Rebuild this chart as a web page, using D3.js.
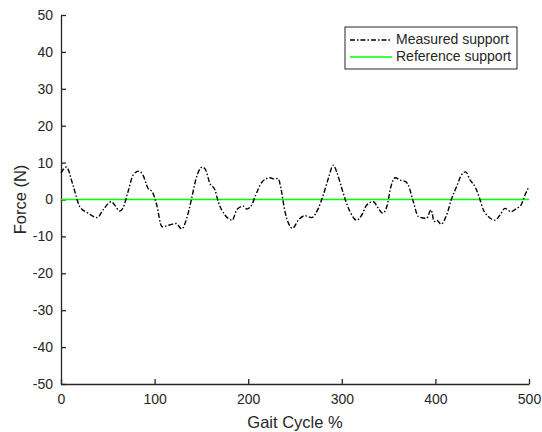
<!DOCTYPE html>
<html>
<head>
<meta charset="utf-8">
<script src="https://cdn.jsdelivr.net/npm/d3@7"></script>
<style>
  body { margin: 0; background: #fff; }
  text { font-family: Arial, "Liberation Sans", sans-serif; fill: #262626; }
</style>
</head>
<body>
<div id="chart"></div>
<script>
// gait cycle positions (%) and measured force (N)
const gaitX = [0, 5.7, 12.8, 20, 29, 38.8, 45, 53.8, 57.3, 62.7, 66, 71.6, 77, 83, 87.6, 93, 97.5, 101.8, 108, 116, 123,
  129, 134.3, 139.6, 143.9, 151, 154.6, 159, 164.5, 168, 175.2, 183, 187.7, 195, 198.4, 203.7, 208, 215, 223.3, 227.6, 232, 235, 239.3,
  247.5, 253.5, 260.7, 267.8, 274.9, 280.2, 285.6, 291, 294.5, 300, 304.5, 308.8, 316, 321.3, 326.6, 333.7, 339, 343.7, 348.6, 352, 357, 362, 368.6,
  371, 376.4, 381.7, 390.6, 395.3, 398.8, 401.4, 406, 412, 417.4, 422.7, 427.4, 432.4, 437, 442.3, 446.6, 451.2, 456.5, 463.7, 469, 474.4, 480.8, 486.8, 491.5, 495.7, 500];
const measured = [7.2, 8.8, 3.9, -1.9, -3.7, -4.9, -2.8, -0.6, -1.5, -3.1, -2.4, 2.1, 6.6, 7.7, 6.6, 3, 2.1, -1, -7.4, -6.9, -6.5,
  -8, -5.1, 0.3, 5.3, 8.8, 8, 4.4, 2.6, -0.6, -4.2, -5.6, -2.8, -1.8, -2.6, -1.5, 1.2, 4.8, 5.9, 5.6, 5.7, 3, -3.3,
  -7.8, -5.6, -4.4, -4.9, -2.4, 1.2, 5.7, 9.3, 7.5, 3, -0.6, -3.3, -5.6, -4.2, -1.5, -0.6, -2.4, -3.7, -1.5, 3, 5.9, 5.3, 4.8,
  3.9, -0.6, -4.6, -5.1, -2.8, -6, -5.6, -6.7, -4.2, 0.3, 3.5, 6.5, 7.5, 5.3, 3.5, 0.8, -2.8, -4.6, -5.6, -4.2, -2.4, -3.3, -2.4, -1.5, 1.2, 3.5];
const referenceX = [0, 500];
const reference = [0, 0];
const xTicks = [0, 100, 200, 300, 400, 500];
const yTicks = [50, 40, 30, 20, 10, 0, -10, -20, -30, -40, -50];
const legendLabels = ["Measured support", "Reference support"];

const W = 542, H = 432;
const margin = { top: 15, right: 13, bottom: 48, left: 61 };
const width = W - margin.left - margin.right;
const height = H - margin.top - margin.bottom;

const svg = d3.select('#chart').append('svg')
  .attr('width', W).attr('height', H);
const g = svg.append('g')
  .attr('transform', `translate(${margin.left},${margin.top})`);

const x = d3.scaleLinear().domain([0, 500]).range([0, width]);
const y = d3.scaleLinear().domain([-50, 50]).range([height, 0]);

// axes, ticks pointing inward like matlab, plain hyphen for negatives
const fmt = d => String(d);
const xAxis = g.append('g')
  .attr('transform', `translate(0,${height})`)
  .call(d3.axisBottom(x).tickValues(xTicks).tickFormat(fmt).tickSizeInner(-5).tickSizeOuter(0).tickPadding(10));
const yAxis = g.append('g')
  .call(d3.axisLeft(y).tickValues(yTicks).tickFormat(fmt).tickSizeInner(-5).tickSizeOuter(0).tickPadding(8));
[xAxis, yAxis].forEach(a => {
  a.select('.domain').attr('stroke', '#262626').attr('stroke-width', 1.3);
  a.selectAll('.tick line').attr('stroke', '#262626').attr('stroke-width', 1.3);
  a.selectAll('.tick text').style('font-size', '14px').attr('fill', '#262626');
});

const line = d3.line().x(d => x(d[0])).y(d => y(d[1]));

// reference
g.append('path')
  .datum(d3.zip(referenceX, reference))
  .attr('d', line)
  .attr('fill', 'none')
  .attr('stroke', '#00ff00')
  .attr('stroke-width', 1.3);

// measured, dash-dot
g.append('path')
  .datum(d3.zip(gaitX, measured))
  .attr('d', line.curve(d3.curveMonotoneX))
  .attr('fill', 'none')
  .attr('stroke', '#000')
  .attr('stroke-width', 1.4)
  .attr('stroke-dasharray', '5,2,1.5,2');

// axis labels
svg.append('text')
  .attr('x', margin.left + width / 2)
  .attr('y', 428)
  .attr('text-anchor', 'middle')
  .style('font-size', '16.5px')
  .text('Gait Cycle %');
svg.append('text')
  .attr('transform', `translate(22,${margin.top + height / 2}) rotate(-90)`)
  .attr('text-anchor', 'middle')
  .attr('dominant-baseline', 'middle')
  .style('font-size', '16.5px')
  .text('Force (N)');

// legend
const legend = svg.append('g').attr('transform', 'translate(345,27)');
legend.append('rect')
  .attr('width', 172).attr('height', 42)
  .attr('fill', '#fff').attr('stroke', '#262626').attr('stroke-width', 1);
const legendStyles = [
  { color: '#000', dash: '5,2,1.5,2' },
  { color: '#00ff00', dash: null }
];
legendLabels.forEach((lab, i) => {
  const ly = 13 + i * 17;
  legend.append('line')
    .attr('x1', 5).attr('x2', 47).attr('y1', ly).attr('y2', ly)
    .attr('stroke', legendStyles[i].color).attr('stroke-width', 1.3)
    .attr('stroke-dasharray', legendStyles[i].dash);
  legend.append('text')
    .attr('x', 51).attr('y', ly)
    .attr('dominant-baseline', 'middle')
    .style('font-size', '14px')
    .text(lab);
});
</script>
</body>
</html>
